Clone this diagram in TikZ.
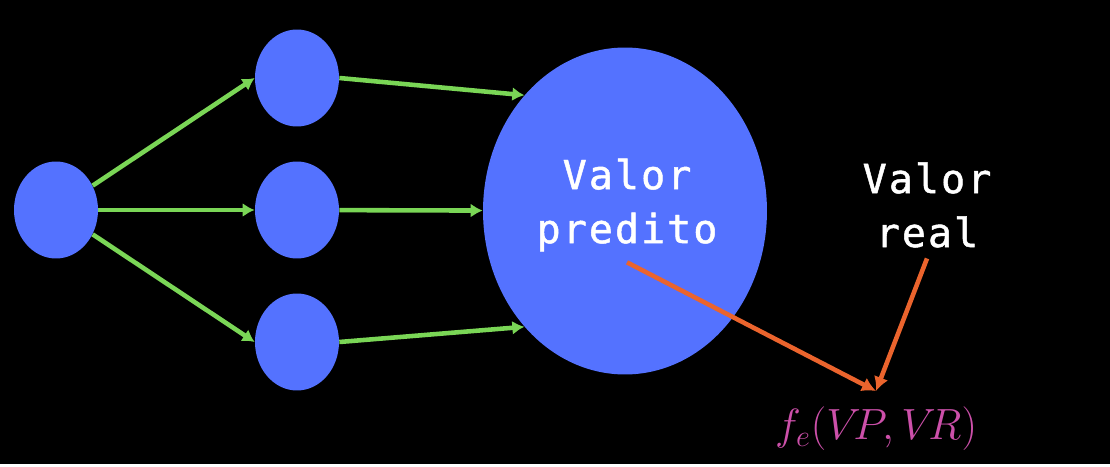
\documentclass[tikz,border=0pt]{standalone}
\usepackage{fontspec}
\setmonofont{DejaVu Sans Mono}
\usepackage{xcolor}
\usepackage{tikz}
\usetikzlibrary{shapes.geometric, arrows.meta}

\definecolor{neuron}{RGB}{84,114,255}
\definecolor{wire}{RGB}{122,214,86}
\definecolor{errline}{RGB}{235,100,45}
\definecolor{errtext}{RGB}{205,80,170}

\begin{document}
\begin{tikzpicture}[x=0.02cm, y=-0.02cm,
    neuron/.style={ellipse, fill=neuron, minimum width=1.68cm, minimum height=1.94cm, inner sep=0pt},
    output/.style={ellipse, fill=neuron, minimum width=5.68cm, minimum height=6.54cm, inner sep=0pt},
    label/.style={text=white, align=center, inner sep=6pt, font=\ttfamily\addfontfeatures{LetterSpace=5, FakeBold=1.2}\fontsize{22.8}{30.7}\selectfont},
    arrow/.style={-{Latex[length=0.24cm, width=0.28cm]}, line width=2.6pt, draw=wire},
    errarrow/.style={-{Latex[length=0.28cm, width=0.3cm]}, line width=2.6pt, draw=errline}
]

% Background
\fill[black] (0,0) rectangle (1110,464);

% Layers
\node[neuron] (input) at (56,210) {};
\node[neuron] (h1) at (297,78) {};
\node[neuron] (h2) at (297,210) {};
\node[neuron] (h3) at (297,342) {};
\node[output] (big) at (625,211) {};

% Texts
\node[label] (pred) at (627,205) {Valor\\predito};
\node[label] (real) at (927,205) {Valor\\real};
\node[text=errtext, inner sep=0pt, inner ysep=9pt, font=\fontsize{26}{30}\selectfont] (fe) at (876,429) {$f_e(V\!P,V\!R)$};

% Input to hidden
\draw[arrow] (input) -- (h1.west);
\draw[arrow] (input) -- (h2);
\draw[arrow] (input) -- (h3.west);

% Hidden to output
\draw[arrow] (h1.east) -- (big.131);
\draw[arrow] (h2) -- (big);
\draw[arrow] (h3.east) -- (big.229);

% Error function
\draw[errarrow] (pred.south) -- (fe.north);
\draw[errarrow] (real.south) -- (fe.north);

\end{tikzpicture}
\end{document}
